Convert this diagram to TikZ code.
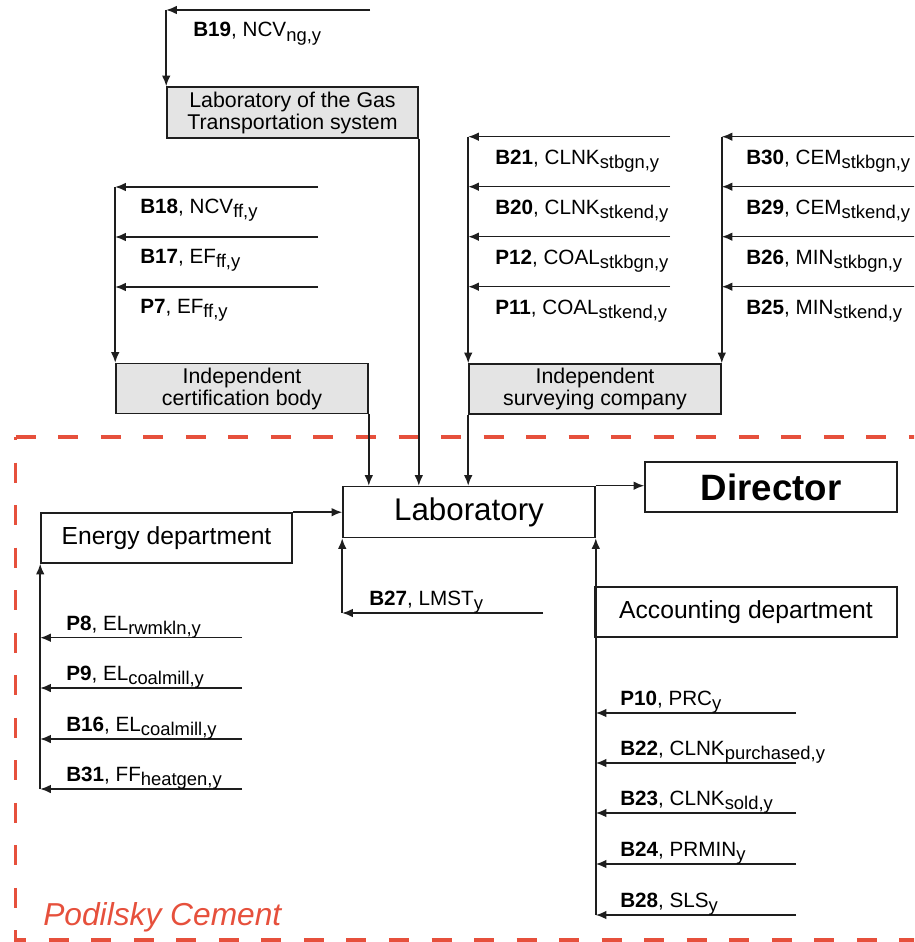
\documentclass[tikz,border=0pt]{standalone}
\usepackage{fontspec}
\setmainfont{Liberation Sans}
\usetikzlibrary{arrows.meta}

\definecolor{podred}{RGB}{230,80,60}
\definecolor{boxgrey}{RGB}{228,228,228}
\definecolor{ink}{RGB}{30,30,30}

\newcommand\ix[1]{\raisebox{-3.4pt}{\fontsize{13.8}{15}\selectfont #1}}

\tikzset{
  box/.style={draw=ink, line width=1.2pt, inner sep=0pt, align=center, font=\fontsize{16}{16.5}\selectfont},
  greybox/.style={box, fill=boxgrey},
  sz/.style 2 args={minimum width=#1*0.75pt, minimum height=#2*0.75pt},
  flow/.style={draw=ink, line width=1.15pt, -{Latex[length=8pt,width=6.5pt]}},
  lbl/.style={anchor=base west, inner sep=0pt, font=\fontsize{15.5}{18}\selectfont},
}

\begin{document}
\begin{tikzpicture}[x=0.75pt, y=-0.75pt]

	\useasboundingbox (0,0) rectangle (914,942);
	\clip (0,0) rectangle (914,942);

	% ----- Rahmen Podilsky Cement -----
	\draw[podred, line width=2.3pt, dash pattern=on 15pt off 16.9pt] (15.7,437) -- (930,437);
	\draw[podred, line width=2.3pt, dash pattern=on 15pt off 16.9pt, dash phase=12.7pt] (15.7,437) -- (15.7,940) -- (930,940);
	\node[anchor=base west, inner sep=0pt, text=podred, font=\itshape\fontsize{23.8}{28}\selectfont] (site) at (43,925) {Podilsky Cement};

	% ----- Kaesten -----
	\node[greybox, sz={251}{51}] (gas) at (292.5,112.5) {Laboratory of the Gas\\Transportation system};
	\node[greybox, sz={252}{50}] (cert) at (242,388.5) {Independent\\certification body};
	\node[greybox, sz={252}{50}] (survey) at (595,389) {Independent\\surveying company};
	\node[box, sz={252}{51}, font=\fontsize{23.5}{26}\selectfont] (lab) at (469,512) {Laboratory};
	\node[box, sz={252}{50}, font=\bfseries\fontsize{27.5}{30}\selectfont] (dir) at (771,487) {Director};
	\node[box, sz={251}{50}, font=\fontsize{18.5}{21}\selectfont] (energy) at (166.5,538) {Energy department};
	\node[box, sz={302}{50}, font=\fontsize{18.5}{21}\selectfont] (acc) at (746,612) {Accounting department};

	% ----- Gas -----
	\coordinate (g19) at (370,10);
	\draw[flow] (g19) -- (g19 -| gas.north west);
	\draw[flow] (g19 -| gas.north west) -- (gas.north west);
	\node[lbl] (l19) at (193,37) {\textbf{B19}, NCV\ix{ng,y}};

	% ----- Zertifizierung -----
	\coordinate (c18) at (318,187);
	\coordinate (c17) at (318,237);
	\coordinate (c7) at (318,287);
	\draw[flow] (c18) -- (c18 -| cert.north west);
	\draw[flow] (c17) -- (c17 -| cert.north west);
	\draw[flow] (c7) -- (c7 -| cert.north west);
	\draw[flow] (c18 -| cert.north west) -- (cert.north west);
	\node[lbl] (l18) at (140,213) {\textbf{B18}, NCV\ix{ff,y}};
	\node[lbl] (l17) at (140,263) {\textbf{B17}, EF\ix{ff,y}};
	\node[lbl] (l7) at (140,313) {\textbf{P7}, EF\ix{ff,y}};

	% ----- Vermessung links -----
	\coordinate (s21) at (670,136.7);
	\coordinate (s20) at (670,186.7);
	\coordinate (s12) at (670,236.7);
	\coordinate (s11) at (670,286.7);
	\draw[flow] (s21) -- (s21 -| survey.north west);
	\draw[flow] (s20) -- (s20 -| survey.north west);
	\draw[flow] (s12) -- (s12 -| survey.north west);
	\draw[flow] (s11) -- (s11 -| survey.north west);
	\draw[flow] (s21 -| survey.north west) -- (survey.north west);
	\node[lbl] (l21) at (495,164) {\textbf{B21}, CLNK\ix{stbgn,y}};
	\node[lbl] (l20) at (495,214) {\textbf{B20}, CLNK\ix{stkend,y}};
	\node[lbl] (l12) at (495,264) {\textbf{P12}, COAL\ix{stkbgn,y}};
	\node[lbl] (l11) at (495,314) {\textbf{P11}, COAL\ix{stkend,y}};

	% ----- Vermessung rechts -----
	\coordinate (s30) at (918,136.7);
	\coordinate (s29) at (918,186.7);
	\coordinate (s26) at (918,236.7);
	\coordinate (s25) at (918,286.7);
	\draw[flow] (s30) -- (s30 -| survey.north east);
	\draw[flow] (s29) -- (s29 -| survey.north east);
	\draw[flow] (s26) -- (s26 -| survey.north east);
	\draw[flow] (s25) -- (s25 -| survey.north east);
	\draw[flow] (s30 -| survey.north east) -- (survey.north east);
	\node[lbl] (l30) at (746,164) {\textbf{B30}, CEM\ix{stkbgn,y}};
	\node[lbl] (l29) at (746,214) {\textbf{B29}, CEM\ix{stkend,y}};
	\node[lbl] (l26) at (746,264) {\textbf{B26}, MIN\ix{stkbgn,y}};
	\node[lbl] (l25) at (746,314) {\textbf{B25}, MIN\ix{stkend,y}};

	% ----- Zufluesse Labor -----
	\draw[flow] (cert.south east) -- (cert.south east |- lab.north);
	\draw[flow] (gas.south east) -- (gas.south east |- lab.north);
	\draw[flow] (survey.south west) -- (survey.south west |- lab.north);
	\draw[flow] (energy.north east) -- (energy.north east -| lab.west);
	\draw[flow] (lab.north east) -- (lab.north east -| dir.west);

	% ----- B27 -----
	\coordinate (b27) at (543,613);
	\draw[flow] (b27) -- (b27 -| lab.south west);
	\draw[flow] (b27 -| lab.south west) -- (lab.south west);
	\node[lbl] (l27) at (369,605) {\textbf{B27}, LMST\ix{y}};

	% ----- Energieabteilung -----
	\coordinate (e8) at (242,637.7);
	\coordinate (e9) at (242,688);
	\coordinate (e16) at (242,739);
	\coordinate (e31) at (242,789);
	\draw[flow] (e8) -- (e8 -| energy.south west);
	\draw[flow] (e9) -- (e9 -| energy.south west);
	\draw[flow] (e16) -- (e16 -| energy.south west);
	\draw[flow] (e31) -- (e31 -| energy.south west);
	\draw[flow] (e31 -| energy.south west) -- (energy.south west);
	\node[lbl] (l8) at (66,630) {\textbf{P8}, EL\ix{rwmkln,y}};
	\node[lbl] (l9) at (66,680) {\textbf{P9}, EL\ix{coalmill,y}};
	\node[lbl] (l16) at (66,731) {\textbf{B16}, EL\ix{coalmill,y}};
	\node[lbl] (l31) at (66,781) {\textbf{B31}, FF\ix{heatgen,y}};

	% ----- Buchhaltung -----
	\coordinate (a10) at (796,713);
	\coordinate (a22) at (796,763);
	\coordinate (a23) at (796,813);
	\coordinate (a24) at (796,864);
	\coordinate (a28) at (796,915);
	\draw[flow] (a10) -- (a10 -| lab.south east);
	\draw[flow] (a22) -- (a22 -| lab.south east);
	\draw[flow] (a23) -- (a23 -| lab.south east);
	\draw[flow] (a24) -- (a24 -| lab.south east);
	\draw[flow] (a28) -- (a28 -| lab.south east);
	\draw[flow] (a28 -| lab.south east) -- (lab.south east);
	\node[lbl] (l10) at (620,705) {\textbf{P10}, PRC\ix{y}};
	\node[lbl] (l22) at (620,755) {\textbf{B22}, CLNK\ix{purchased,y}};
	\node[lbl] (l23) at (620,805) {\textbf{B23}, CLNK\ix{sold,y}};
	\node[lbl] (l24) at (620,856) {\textbf{B24}, PRMIN\ix{y}};
	\node[lbl] (l28) at (620,907) {\textbf{B28}, SLS\ix{y}};

\end{tikzpicture}
\end{document}
